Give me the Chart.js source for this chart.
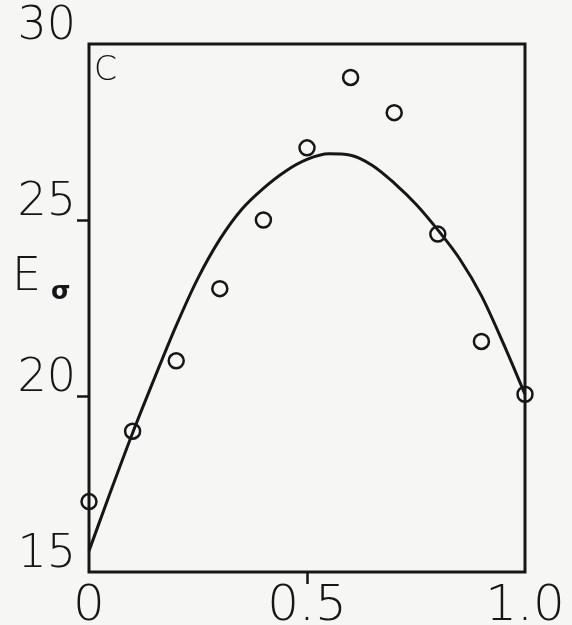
<!DOCTYPE html>
<html>
<head>
<meta charset="utf-8">
<script src="https://cdn.jsdelivr.net/npm/chart.js@4.4.1/dist/chart.umd.min.js"></script>
<style>
  html, body { margin: 0; padding: 0; background: #f6f6f4; }
  #wrap { width: 572px; height: 625px; }
</style>
</head>
<body>
<div id="wrap"><canvas id="chart" width="572" height="625"></canvas></div>
<script>
// measured points (open circles)
const xObs = [0, 0.1, 0.2, 0.3, 0.4, 0.5, 0.6, 0.7, 0.8, 0.9, 1.0];
const eObs = [17.0, 19.0, 21.0, 23.05, 25.0, 27.05, 29.05, 28.05, 24.6, 21.55, 20.05];

// fitted curve
const xFit = [0, 0.05, 0.1, 0.15, 0.2, 0.25, 0.3, 0.35, 0.4, 0.45, 0.5, 0.55, 0.6, 0.65, 0.7, 0.75, 0.8, 0.85, 0.9, 0.95, 1.0];
const eFit = [15.6, 17.3, 18.95, 20.5, 22.0, 23.35, 24.45, 25.3, 25.9, 26.38, 26.72, 26.88, 26.84, 26.55, 26.05, 25.45, 24.72, 23.9, 22.85, 21.5, 20.05];

const yTickVals = [15, 20, 25, 30];
const xTickVals = [0, 0.5, 1.0];

const ink = '#161616';
const fontFam = "'DejaVu Sans', sans-serif";

const frame = {
    id: 'frame',
    afterDatasetsDraw(chart) {
        const a = chart.chartArea;
        const c = chart.ctx;
        c.save();
        c.strokeStyle = ink;
        c.lineWidth = 3;
        c.strokeRect(a.left, a.top, a.right - a.left, a.bottom - a.top);
        c.fillStyle = ink;
        c.textBaseline = 'alphabetic';
        c.textAlign = 'left';
        c.font = '200 33px ' + fontFam;
        c.fillText('C', a.left + 5, a.top + 36);
        c.font = '200 46px ' + fontFam;
        c.fillText('E', 12, 290);
        c.font = 'bold 25px ' + fontFam;
        c.fillText('\u03c3', 51, 299);
        c.restore();
    }
};

new Chart(document.getElementById('chart'), {
    type: 'scatter',
    data: {
        datasets: [{
            type: 'line',
            data: xFit.map((x, i) => ({ x: x, y: eFit[i] })),
            borderColor: ink,
            borderWidth: 3,
            cubicInterpolationMode: 'monotone',
            pointRadius: 0,
            fill: false
        }, {
            data: xObs.map((x, i) => ({ x: x, y: eObs[i] })),
            pointStyle: 'circle',
            pointRadius: 7.5,
            borderColor: ink,
            borderWidth: 2.5,
            backgroundColor: 'rgba(0,0,0,0)'
        }]
    },
    options: {
        responsive: false,
        animation: false,
        clip: false,
        layout: { padding: { left: 0, top: 44, right: 47, bottom: 0 } },
        plugins: {
            legend: { display: false },
            tooltip: { enabled: false }
        },
        scales: {
            x: {
                type: 'linear',
                min: 0,
                max: 1,
                afterBuildTicks: s => { s.ticks = xTickVals.map(v => ({ value: v })); },
                afterFit: s => { s.height = 53; },
                border: { display: false },
                grid: {
                    drawOnChartArea: false,
                    tickLength: 12,
                    tickWidth: 2.5,
                    tickColor: c => (c.tick && c.tick.value === 0.5) ? ink : 'rgba(0,0,0,0)'
                },
                ticks: {
                    color: ink,
                    padding: -7,
                    maxRotation: 0,
                    font: { family: fontFam, size: 50, weight: '200' },
                    callback: v => v === 0 ? '0' : v.toFixed(1)
                }
            },
            y: {
                min: 15,
                max: 30,
                afterBuildTicks: s => { s.ticks = yTickVals.map(v => ({ value: v })); },
                afterFit: s => { s.width = 89; },
                border: { display: false },
                grid: {
                    drawOnChartArea: false,
                    tickLength: 12,
                    tickWidth: 2.5,
                    tickColor: c => (c.tick && (c.tick.value === 20 || c.tick.value === 25)) ? ink : 'rgba(0,0,0,0)'
                },
                ticks: {
                    color: ink,
                    padding: 1,
                    labelOffset: -17,
                    font: { family: fontFam, size: 46, weight: '200' },
                    callback: v => String(v)
                }
            }
        }
    },
    plugins: [frame]
});
</script>
</body>
</html>
